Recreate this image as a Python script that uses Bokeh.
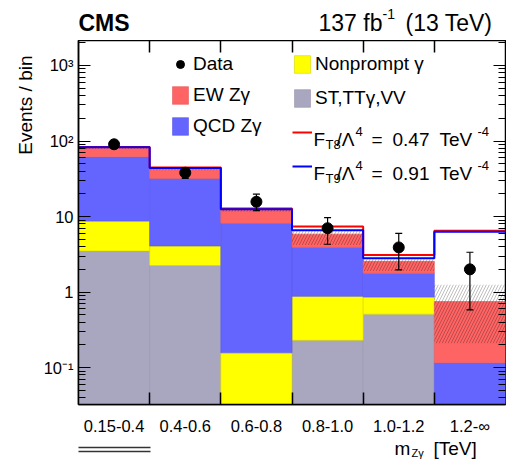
import numpy as np
from bokeh.plotting import figure
from bokeh.layouts import column
from bokeh.models import (FixedTicker, LinearAxis, LogAxis, LogTicker, Label, Legend, Title,
                          LegendItem, BoxAnnotation, CustomJSTickFormatter)
from bokeh.embed import file_html
from bokeh.resources import INLINE

# ---------------- data ----------------
bins = ["0.15-0.4", "0.4-0.6", "0.6-0.8", "0.8-1.0", "1.0-1.2", "1.2-\u221e"]
st_ttg_vv = [3.5, 2.25, 0.0, 0.23, 0.51, 0.0]
nonprompt = [5.2, 1.83, 0.157, 0.65, 0.35, 0.0]
qcd_zg = [53.0, 27.8, 7.97, 3.04, 0.92, 0.116]
ew_zg = [20.1, 10.5, 4.07, 1.93, 0.77, 0.634]
band_lo = [79.0, 41.0, 11.6, 4.2, 1.9, 0.21]
band_hi = [84.5, 44.0, 13.1, 6.6, 2.72, 1.25]
ft8 = [83.5, 44.5, 12.8, 7.4, 3.1, 6.5]
ft9 = [82.5, 43.8, 12.5, 6.6, 2.8, 6.3]
data = [90.5, 38.0, 15.7, 7.0, 3.9, 2.0]
data_lo = [81.0, 32.0, 12.0, 4.3, 1.97, 0.58]
data_hi = [100.0, 44.5, 19.8, 9.7, 6.0, 3.37]

FONT = "Liberation Sans"
W = 506
HEAD_H, FOOT_H = 40, 23
MAIN_H = 460 - HEAD_H - FOOT_H
FL, FB = 78, 407  # main frame left / bottom in page px

n = len(bins)
edges = np.arange(n + 1, dtype=float)
left, right = edges[:-1], edges[1:]
centers = left + 0.5


def text(fig, ox, oy, t, x, y, size, bold=False, align="left", angle=0.0):
    """Place text at page pixel (x, baseline y); (ox, oy) = page px of the fig frame's left/bottom."""
    fig.add_layout(Label(x=x - ox, y=oy - y, x_units="screen", y_units="screen", text=t,
                         text_font=FONT, text_font_size=f"{size}px",
                         text_font_style="bold" if bold else "normal",
                         text_align=align, text_baseline="alphabetic", angle=angle,
                         text_color="black"))


def text_fig(h):
    f = figure(width=W, height=h, x_range=(0, 1), y_range=(0, 1), output_backend="svg",
               toolbar_location=None, min_border=0, x_axis_location=None, y_axis_location=None)
    f.outline_line_color = None
    for g in f.grid:
        g.visible = False
    return f


# ---------------- header (frame aligned with main frame: left edge at x=78) ----------------
head = text_fig(HEAD_H)
HOY = HEAD_H + 8
text(head, FL, HOY, "CMS", 78, 30, 23, bold=True)
text(head, FL, HOY, "137 fb", 318, 30, 23)
text(head, FL, HOY, "-1", 382, 21, 14)
text(head, FL, HOY, "(13 TeV)", 405, 30, 23)

# ---------------- main plot ----------------
p = figure(width=W, height=MAIN_H, x_range=(0, 6), y_range=(0.0325, 2140),
           y_axis_type="log", output_backend="svg", toolbar_location=None,
           min_border_left=78, min_border_right=1, min_border_top=0,
           min_border_bottom=MAIN_H - (FB - HEAD_H))
p.xgrid.visible = False
p.ygrid.visible = False
p.outline_line_color = "black"
p.outline_line_width = 1.5

FLOOR = 1e-3
stack = np.vstack([st_ttg_vv, nonprompt, qcd_zg, ew_zg])
tops = np.cumsum(stack, axis=0)
bottoms = np.vstack([np.zeros(n), tops[:-1]])
tops = np.maximum(tops, FLOOR)
bottoms = np.maximum(bottoms, FLOOR)
fills = ["#a9a6bf", "#ffff00", "#6464ff", "#ff6464"]
lines = ["#9794ae", "#d6d600", "#5a5ae6", "#e65a5a"]
rends = []
for i in range(4):
    r = p.quad(left=left, right=right, bottom=bottoms[i], top=tops[i],
               fill_color=fills[i], line_color=lines[i], line_width=1, line_alpha=0.6)
    rends.append(r)
r_st, r_np, r_qcd, r_ew = rends

p.quad(left=left, right=right, bottom=band_lo, top=band_hi, fill_alpha=0, line_alpha=0,
       hatch_pattern="/", hatch_color="black", hatch_alpha=0.25, hatch_scale=6, hatch_weight=1)

r_ft8 = p.step(x=edges, y=ft8 + [ft8[-1]], mode="after", line_color="#ff0000", line_width=2)
r_ft9 = p.step(x=edges, y=ft9 + [ft9[-1]], mode="after", line_color="#0000ff", line_width=2)

p.segment(x0=centers, y0=data_lo, x1=centers, y1=data_hi, line_color="black", line_width=1.2)
p.scatter(centers, data_lo, marker="dash", size=7, line_color="black", line_width=1.2)
p.scatter(centers, data_hi, marker="dash", size=7, line_color="black", line_width=1.2)
r_data = p.scatter(centers, data, size=11, fill_color="black", line_color="black")

xa = p.xaxis[0]
xa.ticker = FixedTicker(ticks=list(centers), minor_ticks=list(edges[1:-1]))
xa.major_label_overrides = {float(c): lab for c, lab in zip(centers, bins)}
xa.major_tick_line_color = None
xa.minor_tick_in = 12
xa.minor_tick_out = 0
xa.minor_tick_line_color = "black"
xa.minor_tick_line_width = 1.5
xa.axis_line_width = 1.5
xa.major_label_text_font = FONT
xa.major_label_text_font_size = "16.5px"
xa.major_label_text_color = "black"
xa.major_label_standoff = 6

sup_code = """
const e = Math.round(Math.log10(tick));
const sup = {"-1": "\u207b\u00b9", "2": "\u00b2", "3": "\u00b3", "-2": "\u207b\u00b2", "4": "\u2074"};
if (e == 0) return "1";
if (e == 1) return "10";
return "10" + (sup[String(e)] || "");
"""
ya = p.yaxis[0]
ya.ticker = LogTicker(num_minor_ticks=10)
ya.formatter = CustomJSTickFormatter(code=sup_code)
ya.major_tick_in = 12
ya.major_tick_out = 0
ya.minor_tick_in = 7
ya.minor_tick_out = 0
ya.major_tick_line_width = 1.2
ya.axis_line_width = 1.5
ya.major_label_text_font = FONT
ya.major_label_text_font_size = "16.5px"
ya.major_label_text_color = "black"
ya.major_label_standoff = 5

ra = LogAxis(ticker=LogTicker(num_minor_ticks=10), formatter=CustomJSTickFormatter(code='return "";'),
             major_tick_in=12, major_tick_out=0, minor_tick_in=7, minor_tick_out=0,
             major_label_text_font_size="1px", major_label_standoff=0, axis_line_color=None)
p.add_layout(ra, "right")

ta = LinearAxis(ticker=FixedTicker(ticks=list(edges[1:-1])),
                formatter=CustomJSTickFormatter(code='return "";'),
                major_tick_in=12, major_tick_out=0,
                minor_tick_line_color=None, major_label_text_font_size="1px",
                major_label_standoff=0, axis_line_color=None, major_tick_line_width=1.5)
p.add_layout(ta, "above")

p.add_layout(Title(text="Events / bin", align="right", offset=15, standoff=10,
                   text_font=FONT, text_font_size="19px", text_font_style="normal",
                   text_color="black"), "left")

leg_style = dict(border_line_color=None, background_fill_alpha=0, padding=0, margin=0,
                 glyph_width=20, glyph_height=22, label_height=22, label_standoff=3,
                 label_text_font=FONT, label_text_font_size="19px", label_text_color="black")
leg1 = Legend(items=[LegendItem(label="Data", renderers=[r_data]),
                     LegendItem(label="EW Z\u03b3", renderers=[r_ew]),
                     LegendItem(label="QCD Z\u03b3", renderers=[r_qcd])],
              location=(170 - FL, FB - 140), spacing=9, **leg_style)
leg2 = Legend(items=[LegendItem(label="Nonprompt \u03b3", renderers=[r_np]),
                     LegendItem(label="ST,TT\u03b3,VV", renderers=[r_st]),
                     LegendItem(label=" ", renderers=[r_ft8]),
                     LegendItem(label=" ", renderers=[r_ft9])],
              location=(292 - FL, FB - 180), spacing=12, **leg_style)
p.add_layout(leg1)
p.add_layout(leg2)

for dy, name, val in [(0, "T8", "0.47"), (34, "T9", "0.91")]:
    b = 142 + dy
    text(p, FL, FB, "F", 313, b, 19)
    text(p, FL, FB, name, 325, b + 5, 13)
    text(p, FL, FB, "/\u039b", 336, b, 19)
    text(p, FL, FB, "4", 355, b - 8, 13)
    text(p, FL, FB, "=", 371, b, 19)
    text(p, FL, FB, val, 392, b, 19)
    text(p, FL, FB, "TeV", 439, b, 19)
    text(p, FL, FB, "-4", 477, b - 8, 13)

# ---------------- footer (frame aligned with main frame: left edge at x=78) ----------------
foot = text_fig(FOOT_H)
FOY = 460 + 6
text(foot, FL, FOY, "m", 394, 454, 19)
text(foot, FL, FOY, "Z\u03b3", 411, 458, 11)
text(foot, FL, FOY, "[TeV]", 433, 454, 19)
BOY = 456
for yy in (443, 447):
    foot.add_layout(BoxAnnotation(left=0 - FL, right=150 - FL,
                                  top=BOY - yy + 0.7, bottom=BOY - yy - 0.7,
                                  left_units="screen", right_units="screen",
                                  top_units="screen", bottom_units="screen",
                                  fill_color="black", fill_alpha=0.8, line_color=None))

layout = column(head, p, foot, spacing=0)
open("out.html", "w").write(file_html(layout, INLINE))
